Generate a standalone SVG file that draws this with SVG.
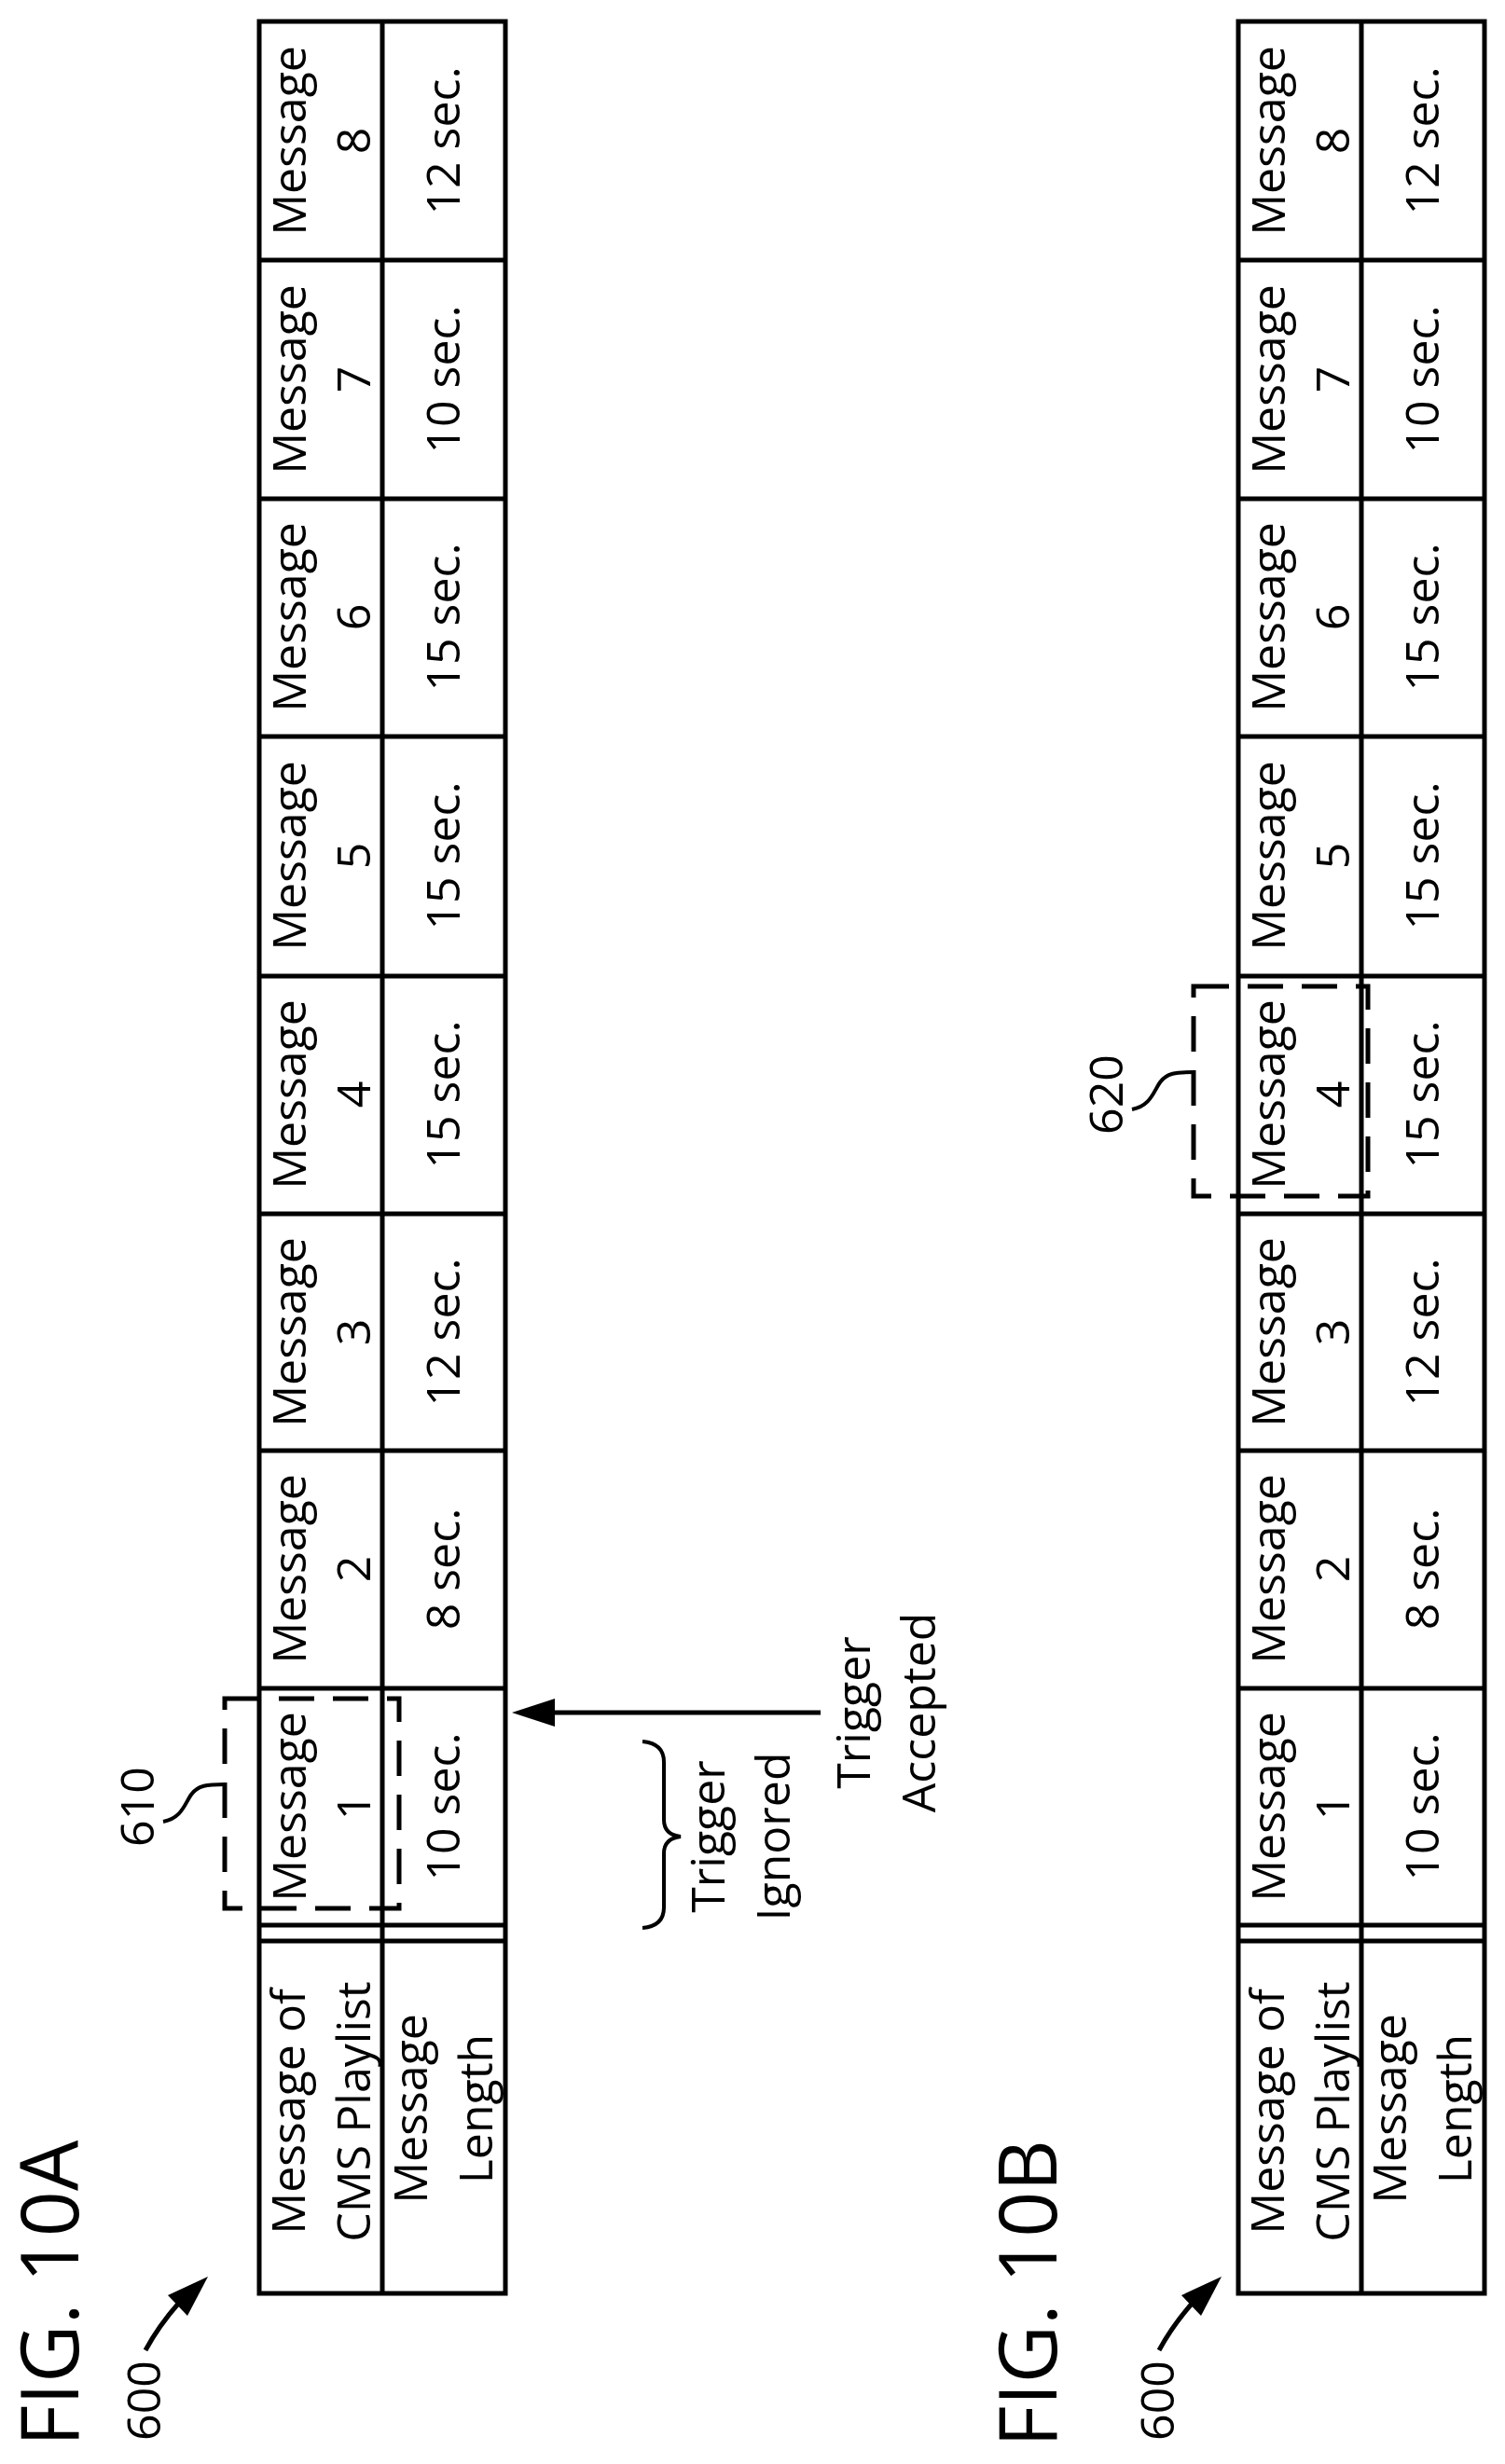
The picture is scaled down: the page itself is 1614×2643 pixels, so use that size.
<svg xmlns="http://www.w3.org/2000/svg" width="1614" height="2643" viewBox="0 0 1614 2643">
<style>
text{font-family:"Open Sans","Liberation Sans",sans-serif;font-size:50px;fill:#000;text-anchor:middle}
.fig{font-size:86px}
.ln{stroke:#000;stroke-width:5;fill:none}
.dash{stroke:#000;stroke-width:5;fill:none;stroke-dasharray:38 20}
.thin{stroke:#000;stroke-width:4;fill:none}
</style>
<defs>
<g id="table">
<rect class="ln" x="278" y="23" width="264" height="2437"/>
<line class="ln" x1="410" y1="23" x2="410" y2="2460"/>
<path class="ln" d="M278 279H542M278 535H542M278 790H542M278 1047H542M278 1302H542M278 1556H542M278 1811H542M278 2065H542M278 2082H542"/>
<g transform="translate(328,151) rotate(-90)"><text>Message</text></g>
<g transform="translate(397,151) rotate(-90)"><text>8</text></g>
<g transform="translate(493,151) rotate(-90)"><text>12 sec.</text></g>
<g transform="translate(328,407) rotate(-90)"><text>Message</text></g>
<g transform="translate(397,407) rotate(-90)"><text>7</text></g>
<g transform="translate(493,407) rotate(-90)"><text>10 sec.</text></g>
<g transform="translate(328,662) rotate(-90)"><text>Message</text></g>
<g transform="translate(397,662) rotate(-90)"><text>6</text></g>
<g transform="translate(493,662) rotate(-90)"><text>15 sec.</text></g>
<g transform="translate(328,918) rotate(-90)"><text>Message</text></g>
<g transform="translate(397,918) rotate(-90)"><text>5</text></g>
<g transform="translate(493,918) rotate(-90)"><text>15 sec.</text></g>
<g transform="translate(328,1174) rotate(-90)"><text>Message</text></g>
<g transform="translate(397,1174) rotate(-90)"><text>4</text></g>
<g transform="translate(493,1174) rotate(-90)"><text>15 sec.</text></g>
<g transform="translate(328,1429) rotate(-90)"><text>Message</text></g>
<g transform="translate(397,1429) rotate(-90)"><text>3</text></g>
<g transform="translate(493,1429) rotate(-90)"><text>12 sec.</text></g>
<g transform="translate(328,1683) rotate(-90)"><text>Message</text></g>
<g transform="translate(397,1683) rotate(-90)"><text>2</text></g>
<g transform="translate(493,1683) rotate(-90)"><text>8 sec.</text></g>
<g transform="translate(328,1938) rotate(-90)"><text>Message</text></g>
<g transform="translate(397,1938) rotate(-90)"><text>1</text></g>
<g transform="translate(493,1938) rotate(-90)"><text>10 sec.</text></g>
<g transform="translate(327,2265) rotate(-90)"><text>Message of</text></g>
<g transform="translate(397,2265) rotate(-90)"><text>CMS Playlist</text></g>
<g transform="translate(458,2262) rotate(-90)"><text>Message</text></g>
<g transform="translate(528,2262) rotate(-90)"><text>Length</text></g>
</g>
<g id="ref600">
<g transform="translate(172,2575) rotate(-90)"><text>600</text></g>
<path class="ln" d="M156 2521Q170 2495 192 2470"/>
<polygon points="223,2442 180,2462 201,2484"/>
</g>
</defs>

<g id="fig10a">
<g transform="translate(84,2460) rotate(-90)"><text class="fig">FIG. 10A</text></g>
</g>
<g id="table-a"><use href="#table"/></g>
<g id="label-600a"><use href="#ref600"/></g>
<g id="box-610">
<rect class="dash" x="241" y="1822" width="187" height="225"/>
<g transform="translate(165,1938) rotate(-90)"><text>610</text></g>
<path class="thin" d="M175 1954C195 1950 198 1935 205 1925C212 1915 222 1914 241 1914"/>
</g>
<g id="trigger-ignored">
<path class="thin" d="M689 1868Q712 1870 712 1890V1952Q712 1968 730 1970Q712 1972 712 1988V2046Q712 2066 689 2068"/>
<g transform="translate(777,1970) rotate(-90)"><text>Trigger</text></g>
<g transform="translate(847,1970) rotate(-90)"><text>Ignored</text></g>
</g>
<g id="trigger-accepted">
<g transform="translate(933,1837) rotate(-90)"><text>Trigger</text></g>
<g transform="translate(1003,1837) rotate(-90)"><text>Accepted</text></g>
</g>
<g id="connectors">
<line class="ln" x1="880" y1="1837" x2="590" y2="1837"/>
<polygon points="549,1837 595,1822 595,1852"/>
</g>

<g id="fig10b">
<g transform="translate(1133,2460) rotate(-90)"><text class="fig">FIG. 10B</text></g>
</g>
<g id="table-b"><use href="#table" transform="translate(1050,0)"/></g>
<g id="label-600b"><use href="#ref600" transform="translate(1087,0)"/></g>
<g id="box-620">
<rect class="dash" x="1280" y="1058" width="187" height="225"/>
<g transform="translate(1204,1174) rotate(-90)"><text>620</text></g>
<path class="thin" d="M1214 1190C1234 1186 1237 1171 1244 1161C1251 1151 1261 1150 1280 1150"/>
</g>
</svg>
